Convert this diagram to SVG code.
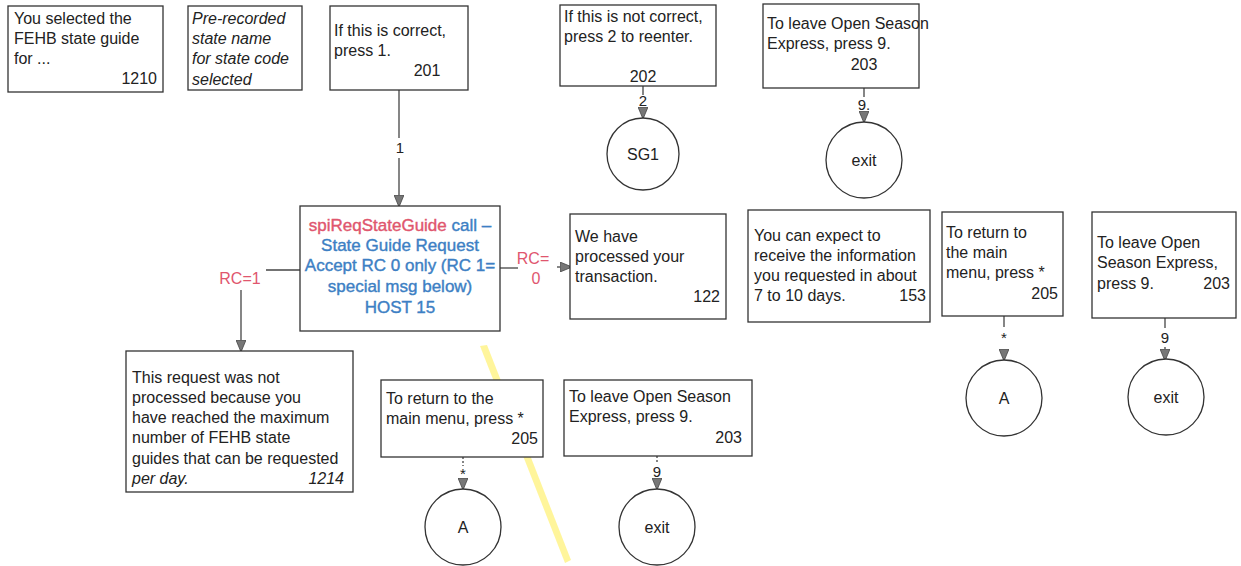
<svg xmlns="http://www.w3.org/2000/svg" width="1241" height="566" viewBox="0 0 1241 566">
<defs>
<style>
text{font-family:"Liberation Sans",Arial,sans-serif;font-size:16px;fill:#222}
.it{font-style:italic}
.r{text-anchor:end}
.m{text-anchor:middle}
.box{fill:#fff;stroke:#333;stroke-width:1.3}
.circ{fill:#fff;stroke:#333;stroke-width:1.3}
.ln{fill:none;stroke:#444;stroke-width:1.3}
.dot{fill:none;stroke:#444;stroke-width:1.3;stroke-dasharray:2 2}
.red{fill:#e0566e}
.blue{fill:#3d7fc4}
.lbl{font-size:15px}
.rc{font-size:16px}
.spi{font-size:17px}
.spi .red{stroke:#e0566e;stroke-width:0.4}
.spi.blue,.spi .blue{stroke:#3d7fc4;stroke-width:0.4}
</style>
<marker id="ah" markerWidth="12" markerHeight="10" refX="11" refY="5" orient="auto" markerUnits="userSpaceOnUse">
<path d="M0,0 L12,5 L0,10 Z" fill="#777" stroke="#444" stroke-width="0.8"/>
</marker>
</defs>
<rect width="1241" height="566" fill="#fff"/>
<path d="M480,346 L487,345 L571,560 L565,563 Z" fill="#fff27a" opacity="0.75"/>
<path d="M952,238 L964,236 L968,252 L956,254 Z" fill="#fff27a" opacity="0.4"/>

<g id="connectors">
<line class="ln" x1="399" y1="90" x2="399" y2="138"/>
<text class="m lbl" x="400" y="153">1</text>
<line class="ln" x1="399" y1="158" x2="399" y2="206" marker-end="url(#ah)"/>
<line class="ln" x1="643" y1="86" x2="643" y2="95"/>
<text class="m lbl" x="643" y="106">2</text>
<line class="ln" x1="643" y1="110" x2="643" y2="118" marker-end="url(#ah)"/>
<line class="ln" x1="864" y1="88" x2="864" y2="97"/>
<text class="m lbl" x="864" y="110">9.</text>
<line class="ln" x1="864" y1="113" x2="864" y2="122" marker-end="url(#ah)"/>
<line class="ln" x1="300" y1="270" x2="266" y2="270"/>
<text class="red m rc" x="240" y="284">RC=1</text>
<line class="ln" x1="241" y1="290" x2="241" y2="351" marker-end="url(#ah)"/>
<line class="ln" x1="500" y1="268" x2="518" y2="268"/>
<text class="red m rc" x="533" y="264">RC=</text>
<text class="red m rc" x="536" y="284">0</text>
<line class="ln" x1="557" y1="267" x2="571" y2="267" marker-end="url(#ah)"/>
<line class="ln" x1="1004" y1="316" x2="1004" y2="327"/>
<text class="m lbl" x="1004" y="343">*</text>
<line class="ln" x1="1004" y1="350" x2="1004" y2="360" marker-end="url(#ah)"/>
<line class="ln" x1="1165" y1="318" x2="1165" y2="328"/>
<text class="m lbl" x="1165" y="343">9</text>
<line class="ln" x1="1165" y1="347" x2="1165" y2="360" marker-end="url(#ah)"/>
<line class="dot" x1="463" y1="457" x2="463" y2="466"/>
<text class="m lbl" x="463" y="479">*</text>
<line class="dot" x1="463" y1="480" x2="463" y2="489" marker-end="url(#ah)"/>
<line class="dot" x1="657" y1="456" x2="657" y2="464"/>
<text class="m lbl" x="657" y="477">9</text>
<line class="dot" x1="657" y1="480" x2="657" y2="489" marker-end="url(#ah)"/>
</g>

<g id="n1210">
<rect class="box" x="8" y="6" width="155" height="86"/>
<text x="14" y="24">You selected the</text>
<text x="14" y="44">FEHB state guide</text>
<text x="14" y="64">for ...</text>
<text class="r" x="157" y="84">1210</text>
</g>
<g id="nprerecorded">
<rect class="box" x="188" y="6" width="114" height="84"/>
<text class="it" x="192" y="24">Pre-recorded</text>
<text class="it" x="192" y="44">state name</text>
<text class="it" x="192" y="64">for state code</text>
<text class="it" x="192" y="85">selected</text>
</g>
<g id="n201">
<rect class="box" x="330" y="6" width="138" height="84"/>
<text x="334" y="36">If this is correct,</text>
<text x="334" y="56">press 1.</text>
<text class="m" x="427" y="76">201</text>
</g>
<g id="n202">
<rect class="box" x="560" y="5" width="156" height="81"/>
<text x="564" y="22">If this is not correct,</text>
<text x="564" y="42">press 2 to reenter.</text>
<text class="m" x="643" y="82">202</text>
</g>
<g id="n203a">
<rect class="box" x="763" y="4" width="156" height="84"/>
<text x="767" y="29">To leave Open Season</text>
<text x="767" y="49">Express, press 9.</text>
<text class="m" x="864" y="70">203</text>
</g>
<g id="sg1">
<circle class="circ" cx="643" cy="154" r="36"/>
<text class="m" x="643" y="160">SG1</text>
</g>
<g id="exit1">
<circle class="circ" cx="864" cy="160" r="38"/>
<text class="m" x="864" y="166">exit</text>
</g>
<g id="spi">
<rect class="box" x="300" y="206" width="200" height="125"/>
<text class="m spi" x="400" y="231"><tspan class="red">spiReqStateGuide</tspan><tspan class="blue"> call –</tspan></text>
<text class="m blue spi" x="400" y="251">State Guide Request</text>
<text class="m blue spi" x="400" y="271">Accept RC 0 only (RC 1=</text>
<text class="m blue spi" x="400" y="292">special msg below)</text>
<text class="m blue spi" x="400" y="313">HOST 15</text>
</g>
<g id="n122">
<rect class="box" x="570" y="214" width="156" height="105"/>
<text x="575" y="242">We have</text>
<text x="575" y="262">processed your</text>
<text x="575" y="282">transaction.</text>
<text class="r" x="720" y="302">122</text>
</g>
<g id="n153">
<rect class="box" x="748" y="210" width="182" height="112"/>
<text x="754" y="241">You can expect to</text>
<text x="754" y="261">receive the information</text>
<text x="754" y="281">you requested in about</text>
<text x="754" y="301">7 to 10 days.</text>
<text class="r" x="926" y="301">153</text>
</g>
<g id="n205a">
<rect class="box" x="942" y="212" width="121" height="104"/>
<text x="946" y="238">To return to</text>
<text x="946" y="258">the main</text>
<text x="946" y="278">menu, press *</text>
<text class="r" x="1058" y="299">205</text>
</g>
<g id="n203b">
<rect class="box" x="1092" y="212" width="144" height="106"/>
<text x="1097" y="248">To leave Open</text>
<text x="1097" y="268">Season Express,</text>
<text x="1097" y="289">press 9.</text>
<text class="r" x="1230" y="289">203</text>
</g>
<g id="a1">
<circle class="circ" cx="1004" cy="398" r="38"/>
<text class="m" x="1004" y="404">A</text>
</g>
<g id="exit2">
<circle class="circ" cx="1166" cy="397" r="38"/>
<text class="m" x="1166" y="403">exit</text>
</g>
<g id="n1214">
<rect class="box" x="126" y="351" width="227" height="141"/>
<text x="132" y="383">This request was not</text>
<text x="132" y="403">processed because you</text>
<text x="132" y="423">have reached the maximum</text>
<text x="132" y="443">number of FEHB state</text>
<text x="132" y="464">guides that can be requested</text>
<text class="it" x="132" y="484">per day.</text>
<text class="it r" x="344" y="484">1214</text>
</g>
<g id="n205b">
<rect class="box" x="381" y="380" width="162" height="77"/>
<text x="386" y="404">To return to the</text>
<text x="386" y="424">main menu, press  *</text>
<text class="r" x="538" y="444">205</text>
</g>
<g id="n203c">
<rect class="box" x="564" y="380" width="188" height="76"/>
<text x="569" y="402">To leave Open Season</text>
<text x="569" y="422">Express, press 9.</text>
<text class="r" x="742" y="443">203</text>
</g>
<g id="a2">
<circle class="circ" cx="463" cy="527" r="38"/>
<text class="m" x="463" y="533">A</text>
</g>
<g id="exit3">
<circle class="circ" cx="657" cy="527" r="38"/>
<text class="m" x="657" y="533">exit</text>
</g>
</svg>
